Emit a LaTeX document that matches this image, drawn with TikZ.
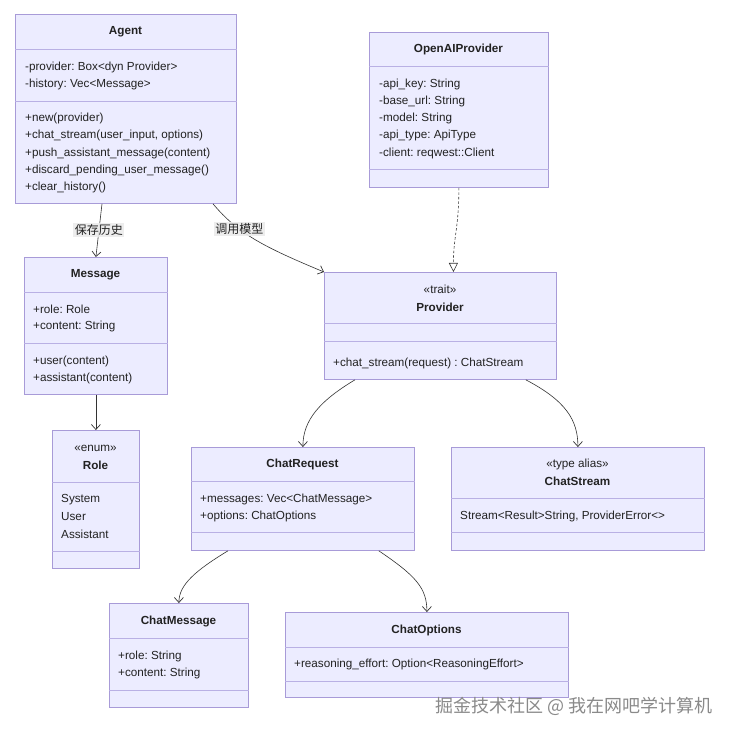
\documentclass[tikz,border=0pt]{standalone}
\usepackage{fontspec}
\setmainfont{Liberation Sans}
\newfontfamily\cjk{Noto Sans CJK SC}
\usetikzlibrary{arrows.meta}
\frenchspacing
\definecolor{clsfill}{HTML}{ECECFF}
\definecolor{clsline}{HTML}{A89BD8}
\definecolor{divline}{HTML}{B9B0E4}
\definecolor{edgecol}{HTML}{333333}
\definecolor{txtcol}{HTML}{222222}
\definecolor{lblbg}{HTML}{ECECEC}
\definecolor{wmark}{HTML}{8A8A8A}
\tikzset{
  cls/.style={draw=clsline, fill=clsfill, line width=0.8pt, inner sep=0pt, rectangle},
  divider/.style={draw=divline, line width=0.8pt},
  title/.style={font=\fontsize{11.7}{14}\selectfont\bfseries, text=txtcol, inner sep=0pt},
  stereo/.style={font=\fontsize{11.7}{14}\selectfont, text=txtcol, inner sep=0pt},
  member/.style={font=\fontsize{11.7}{14}\selectfont, text=txtcol, inner sep=0pt, anchor=west},
  assoc/.style={draw=edgecol, line width=0.6pt, -{Straight Barb[length=5pt,width=9pt,line width=0.7pt]}},
  realize/.style={draw=edgecol, line width=0.6pt, dashed, dash pattern=on 2.5pt off 2pt, -{Triangle[open,length=9pt,width=9pt,fill=white,line width=0.6pt]}},
  elabel/.style={font=\cjk\fontsize{12}{14}\selectfont, text=txtcol, fill=lblbg, fill opacity=0.9, text opacity=1, inner sep=1.5pt},
}
% name, x1, y1, x2, y2
\newcommand\umlclass[5]{%
  \node[cls, anchor=north west, minimum width={(#4-#2)*1pt}, minimum height={(#5-#3)*1pt}] (#1) at (#2,#3) {};}
\newcommand\umldiv[2]{%
  \draw[divider] (#1.west |- 0,#2) -- (#1.east |- 0,#2);}
\begin{document}
\begin{tikzpicture}[x=1pt,y=-1pt]
\useasboundingbox[fill=white] (0,0) rectangle (736,735);

% ---------- Agent
\umlclass{agent}{15}{14}{236}{203}
\umldiv{agent}{49}\umldiv{agent}{101}
\node[title] (agentT) at (125.5,32) {Agent};
\node[member] (agentA1) at (25,67) {-provider: Box<dyn Provider>};
\node[member] (agentA2) at (25,84) {-history: Vec<Message>};
\node[member] (agentM1) at (25,118) {+new(provider)};
\node[member] (agentM2) at (25,135) {+chat\_stream(user\_input, options)};
\node[member] (agentM3) at (25,153) {+push\_assistant\_message(content)};
\node[member] (agentM4) at (25,170) {+discard\_pending\_user\_message()};
\node[member] (agentM5) at (25,187) {+clear\_history()};

% ---------- OpenAIProvider
\umlclass{oai}{369}{32}{548}{187}
\umldiv{oai}{66}\umldiv{oai}{169}
\node[title] (oaiT) at (458.5,49) {OpenAIProvider};
\node[member] (oaiA1) at (379,84) {-api\_key: String};
\node[member] (oaiA2) at (379,101) {-base\_url: String};
\node[member] (oaiA3) at (379,118) {-model: String};
\node[member] (oaiA4) at (379,135) {-api\_type: ApiType};
\node[member] (oaiA5) at (379,153) {-client: reqwest::Client};

% ---------- Message
\umlclass{message}{24}{257}{167}{394}
\umldiv{message}{292}\umldiv{message}{343}
\node[title] (messageT) at (95.5,275) {Message};
\node[member] (messageA1) at (33,309) {+role: Role};
\node[member] (messageA2) at (33,326) {+content: String};
\node[member] (messageM1) at (33,361) {+user(content)};
\node[member] (messageM2) at (33,378) {+assistant(content)};

% ---------- Provider
\umlclass{provider}{324}{272}{556}{379}
\umldiv{provider}{323}\umldiv{provider}{341}
\node[stereo] (providerS) at (440,289) {«trait»};
\node[title] (providerT) at (440,307) {Provider};
\node[member] (providerM1) at (333,363) {+chat\_stream(request) : ChatStream};

% ---------- Role
\umlclass{role}{52}{430}{139}{568}
\umldiv{role}{482}\umldiv{role}{551}
\node[stereo] (roleS) at (95.5,448) {«enum»};
\node[title] (roleT) at (95.5,465) {Role};
\node[member] (roleV1) at (61,500) {System};
\node[member] (roleV2) at (61,517) {User};
\node[member] (roleV3) at (61,534) {Assistant};

% ---------- ChatRequest
\umlclass{creq}{191}{447}{414}{550}
\umldiv{creq}{481}\umldiv{creq}{532}
\node[title] (creqT) at (302.5,464) {ChatRequest};
\node[member] (creqA1) at (200,499) {+messages: Vec<ChatMessage>};
\node[member] (creqA2) at (200,516) {+options: ChatOptions};

% ---------- ChatStream
\umlclass{cstream}{451}{447}{704}{550}
\umldiv{cstream}{498}\umldiv{cstream}{532}
\node[stereo] (cstreamS) at (577.5,464) {«type alias»};
\node[title] (cstreamT) at (577.5,481) {ChatStream};
\node[member] (cstreamA1) at (460,516) {Stream<Result>String, ProviderError<>};

% ---------- ChatMessage
\umlclass{cmsg}{109}{603}{248}{707}
\umldiv{cmsg}{638}\umldiv{cmsg}{690}
\node[title] (cmsgT) at (178.5,621) {ChatMessage};
\node[member] (cmsgA1) at (118,656) {+role: String};
\node[member] (cmsgA2) at (118,673) {+content: String};

% ---------- ChatOptions
\umlclass{copt}{285}{612}{568}{697}
\umldiv{copt}{647}\umldiv{copt}{681}
\node[title] (coptT) at (426.5,630) {ChatOptions};
\node[member] (coptA1) at (294,664) {+reasoning\_effort: Option<ReasoningEffort>};

% ---------- connectors
\draw[assoc] ([xshift=87pt]agent.south west) -- (message.north)
  node[elabel, pos=0.5] (lblHist) {保存历史};
\draw[assoc] ([xshift=198pt]agent.south west)
  .. controls +(25,30) and +(-60,-25) .. (provider.north west)
  node[elabel, pos=0.33] (lblCall) {调用模型};
\draw[realize] (oai.south) .. controls +(0,40) and +(0,-35) .. ([xshift=13pt]provider.north);
\draw[assoc] (message.south) -- (role.north);
\draw[assoc] ([xshift=31pt]provider.south west)
  .. controls +(-35,21) and +(0,-27) .. (creq.north);
\draw[assoc] ([xshift=-31pt]provider.south east)
  .. controls +(40,21) and +(0,-27) .. (cstream.north);
\draw[assoc] ([xshift=37pt]creq.south west)
  .. controls +(-33,20) and +(0,-18) .. (cmsg.north);
\draw[assoc] ([xshift=-36pt]creq.south east)
  .. controls +(37,25) and +(0,-24) .. (copt.north);

% ---------- watermark
\node[font=\cjk\fontsize{18}{21}\selectfont, text=wmark, inner sep=0pt] (wm) at (574,706) {掘金技术社区 @ 我在网吧学计算机};
\end{tikzpicture}
\end{document}
